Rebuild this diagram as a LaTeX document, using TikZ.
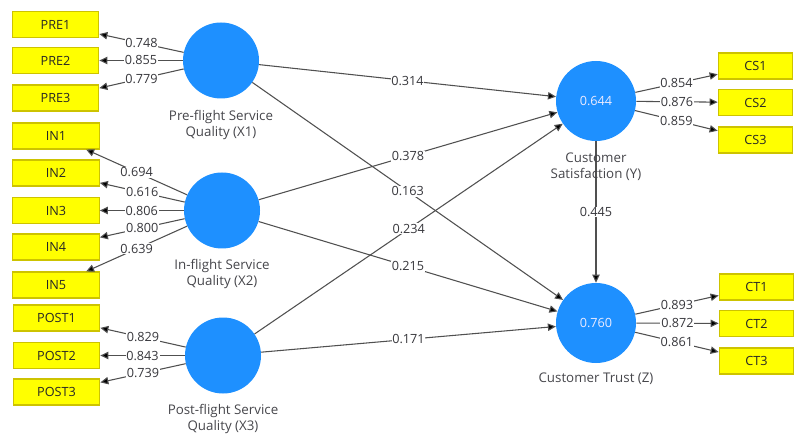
\documentclass[tikz,border=0pt]{standalone}
\usepackage{fontspec}
\setmainfont{Open Sans}
\usetikzlibrary{arrows.meta}
\definecolor{lvblue}{RGB}{30,144,255}
\definecolor{mvyellow}{RGB}{255,255,0}
\definecolor{mvborder}{RGB}{205,195,0}
\definecolor{txt}{RGB}{55,55,60}
\definecolor{captxt}{RGB}{70,70,75}
\definecolor{edge}{RGB}{80,80,80}
\begin{document}
\begin{tikzpicture}[x=0.75pt,y=-0.75pt,
  every node/.style={font=\fontsize{9.5}{12}\selectfont, text=txt},
  mvl/.style={draw=mvborder, fill=mvyellow, line width=0.8pt, minimum width=65pt, minimum height=19.5pt, inner sep=0pt, text=black!85},
  mvr/.style={mvl, minimum width=56pt},
  lv/.style={circle, fill=lvblue, minimum size=57pt, inner sep=0pt, text=white!92!blue},
  lvb/.style={lv, minimum size=60pt},
  arr/.style={draw=edge, line width=0.8pt, -{Triangle[length=6pt,width=5.5pt,fill=black]}},
  lbl/.style={fill=white, inner sep=0.6pt, pos=0.5},
  lvcap/.style={align=center, font=\fontsize{10}{12}\selectfont, text=captxt}
]
\useasboundingbox (0,0) rectangle (795,434);
% indicators left
\node[mvl] (PRE1) at (55.5,24.5) {PRE1};
\node[mvl] (PRE2) at (55.5,60.5) {PRE2};
\node[mvl] (PRE3) at (55.5,98) {PRE3};
\node[mvl] (IN1) at (56,136) {IN1};
\node[mvl] (IN2) at (56,173) {IN2};
\node[mvl] (IN3) at (56,210.5) {IN3};
\node[mvl] (IN4) at (56,247) {IN4};
\node[mvl] (IN5) at (56,285) {IN5};
\node[mvl] (POST1) at (56.5,318) {POST1};
\node[mvl] (POST2) at (56.5,355.5) {POST2};
\node[mvl] (POST3) at (56.5,392) {POST3};
% indicators right
\node[mvr] (CS1) at (755.5,66) {CS1};
\node[mvr] (CS2) at (755.5,102.5) {CS2};
\node[mvr] (CS3) at (755.5,140) {CS3};
\node[mvr] (CT1) at (756.5,287) {CT1};
\node[mvr] (CT2) at (756.5,323.5) {CT2};
\node[mvr] (CT3) at (756.5,361) {CT3};
% latent variables
\node[lv] (X1) at (221,60.5) {};
\node[lv] (X2) at (222,210.5) {};
\node[lv] (X3) at (223,355.5) {};
\node[lvb] (Y) at (596,101) {0.644};
\node[lvb] (Z) at (596,323) {0.760};
% captions
\node[lvcap] (cX1) at (221,125) {Pre-flight Service\\Quality (X1)};
\node[lvcap] (cX2) at (222,274) {In-flight Service\\Quality (X2)};
\node[lvcap] (cX3) at (223,419) {Post-flight Service\\Quality (X3)};
% loadings
\draw[arr] (X1) -- node[lbl]{0.748} (PRE1);
\draw[arr] (X1) -- node[lbl]{0.855} (PRE2);
\draw[arr] (X1) -- node[lbl]{0.779} (PRE3);
\draw[arr] (X2) -- node[lbl]{0.694} (IN1);
\draw[arr] (X2) -- node[lbl]{0.616} (IN2);
\draw[arr] (X2) -- node[lbl]{0.806} (IN3);
\draw[arr] (X2) -- node[lbl]{0.800} (IN4);
\draw[arr] (X2) -- node[lbl]{0.639} (IN5);
\draw[arr] (X3) -- node[lbl]{0.829} (POST1);
\draw[arr] (X3) -- node[lbl]{0.843} (POST2);
\draw[arr] (X3) -- node[lbl]{0.739} (POST3);
\draw[arr] (Y) -- node[lbl]{0.854} (CS1);
\draw[arr] (Y) -- node[lbl]{0.876} (CS2);
\draw[arr] (Y) -- node[lbl]{0.859} (CS3);
\draw[arr] (Z) -- node[lbl]{0.893} (CT1);
\draw[arr] (Z) -- node[lbl]{0.872} (CT2);
\draw[arr] (Z) -- node[lbl]{0.861} (CT3);
% structural paths
\draw[arr] (X1) -- node[lbl]{0.314} (Y);
\draw[arr] (X1) -- node[lbl]{0.163} (Z);
\draw[arr] (X2) -- node[lbl]{0.378} (Y);
\draw[arr] (X2) -- node[lbl]{0.215} (Z);
\draw[arr] (X3) -- node[lbl]{0.234} (Y);
\draw[arr] (X3) -- node[lbl]{0.171} (Z);
\draw[arr] (Y) -- node[lbl]{0.445} (Z);
% captions over lines
\node[lvcap] (cY) at (596,167) {Customer\\Satisfaction (Y)};
\node[lvcap] (cZ) at (596,379) {Customer Trust (Z)};
\end{tikzpicture}
\end{document}
